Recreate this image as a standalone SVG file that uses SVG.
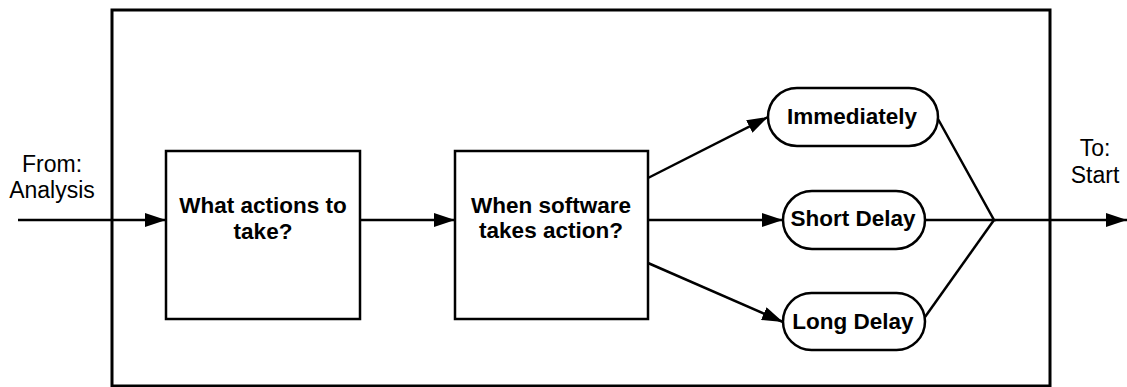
<svg xmlns="http://www.w3.org/2000/svg" width="1127" height="387" viewBox="0 0 1127 387">
<defs>
<style>
.frame{fill:none;stroke:#000;stroke-width:3}
.box{fill:#fff;stroke:#000;stroke-width:2.5}
.pill{fill:#fff;stroke:#000;stroke-width:2.5}
.ln{fill:none;stroke:#000;stroke-width:2.5}
.bt{font-family:"Liberation Sans",Arial,sans-serif;font-weight:bold;font-size:22.5px;text-anchor:middle;fill:#000}
.nt{font-family:"Liberation Sans",Arial,sans-serif;font-size:23px;text-anchor:middle;fill:#000}
</style>
<marker id="ah" viewBox="0 0 21 14" refX="21" refY="7" markerWidth="21" markerHeight="14" markerUnits="userSpaceOnUse" orient="auto">
<path d="M0,0 L21,7 L0,14 Z" fill="#000"/>
</marker>
</defs>
<rect width="1127" height="387" fill="#fff"/>
<rect class="frame" x="112" y="10" width="938" height="376"/>
<g id="connectors">
<line class="ln" x1="18" y1="220" x2="166" y2="220" marker-end="url(#ah)"/>
<line class="ln" x1="360" y1="220" x2="455" y2="220" marker-end="url(#ah)"/>
<line class="ln" x1="648" y1="178" x2="768" y2="117" marker-end="url(#ah)"/>
<line class="ln" x1="648" y1="220" x2="783" y2="220" marker-end="url(#ah)"/>
<line class="ln" x1="648" y1="263" x2="783" y2="322" marker-end="url(#ah)"/>
<polyline class="ln" points="938,119 994,220 925,220"/>
<line class="ln" x1="994" y1="220" x2="925" y2="317"/>
<line class="ln" x1="994" y1="220" x2="1127" y2="220" marker-end="url(#ah)"/>
</g>
<g id="from">
<text class="nt" x="52" y="172">From:</text>
<text class="nt" x="52" y="198">Analysis</text>
</g>
<g id="to">
<text class="nt" x="1095" y="156">To:</text>
<text class="nt" x="1095" y="183">Start</text>
</g>
<g id="actions">
<rect class="box" x="166" y="151" width="194" height="168"/>
<text class="bt" x="263" y="213">What actions to</text>
<text class="bt" x="263" y="239">take?</text>
</g>
<g id="when">
<rect class="box" x="455" y="151" width="193" height="168"/>
<text class="bt" x="551" y="213">When software</text>
<text class="bt" x="551" y="238">takes action?</text>
</g>
<g id="immediately">
<rect class="pill" x="768" y="88" width="170" height="58" rx="29"/>
<text class="bt" x="852" y="124">Immediately</text>
</g>
<g id="short">
<rect class="pill" x="783" y="191" width="142" height="58" rx="29"/>
<text class="bt" x="853" y="226">Short Delay</text>
</g>
<g id="long">
<rect class="pill" x="783" y="293" width="142" height="57" rx="28.5"/>
<text class="bt" x="853" y="329">Long Delay</text>
</g>
</svg>
